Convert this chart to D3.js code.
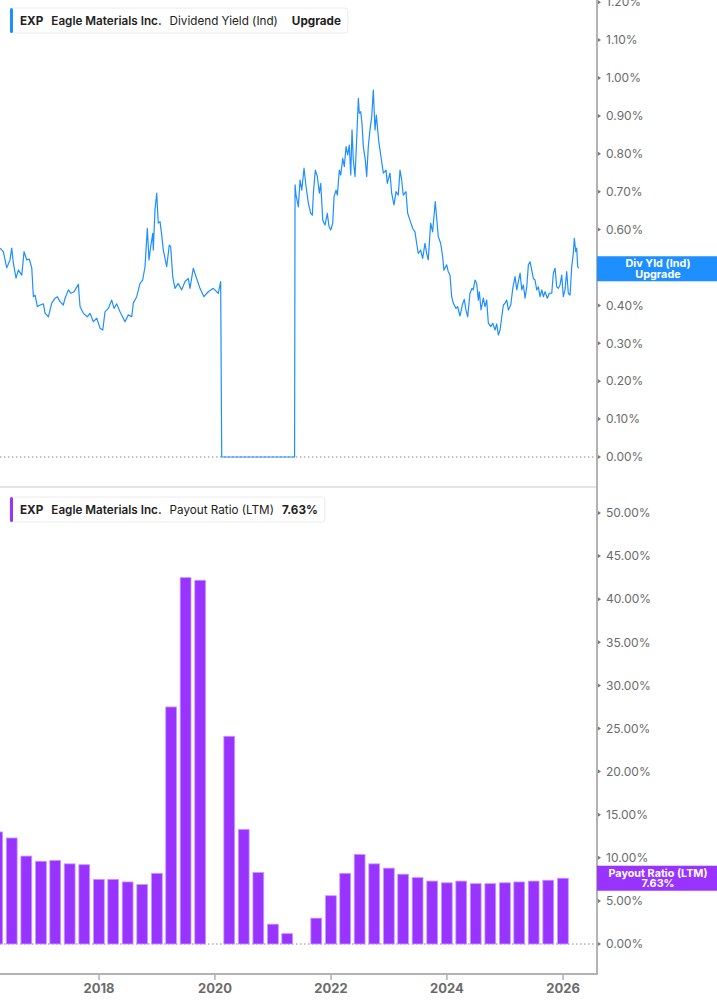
<!DOCTYPE html>
<html>
<head>
<meta charset="utf-8">
<script src="https://cdn.jsdelivr.net/npm/d3@7"></script>
<style>
  body { margin: 0; background: #fff; }
  svg { display: block; font-family: Inter, "Noto Sans", sans-serif; }
</style>
</head>
<body>
<svg id="chart" width="717" height="1005"></svg>
<script>
// dividend yield (ind), % -- decimal year / value
const yieldYears = [
  2016.293, 2016.350, 2016.409, 2016.465, 2016.495, 2016.522, 2016.569, 2016.609, 2016.667, 2016.707,
  2016.753, 2016.798, 2016.840, 2016.867, 2016.896, 2016.936, 2016.983, 2017.040, 2017.069, 2017.126,
  2017.184, 2017.241, 2017.281, 2017.327, 2017.384, 2017.414, 2017.471, 2017.512, 2017.569, 2017.603,
  2017.643, 2017.672, 2017.729, 2017.798, 2017.845, 2017.902, 2017.960, 2018.017, 2018.064, 2018.103,
  2018.160, 2018.219, 2018.259, 2018.305, 2018.362, 2018.448, 2018.505, 2018.564, 2018.591, 2018.650,
  2018.707, 2018.753, 2018.793, 2018.833, 2018.862, 2018.891, 2018.926, 2018.936, 2018.965, 2018.995,
  2019.022, 2019.052, 2019.081, 2019.109, 2019.167, 2019.212, 2019.236, 2019.271, 2019.310, 2019.367,
  2019.426, 2019.483, 2019.540, 2019.569, 2019.626, 2019.684, 2019.741, 2019.810, 2019.884, 2019.971,
  2020.057, 2020.098, 2020.116, 2021.371,
  2021.379, 2021.396, 2021.436, 2021.465, 2021.495, 2021.534, 2021.569, 2021.609, 2021.650, 2021.677,
  2021.695, 2021.729, 2021.764, 2021.798, 2021.822, 2021.857, 2021.896, 2021.936, 2021.965, 2021.995,
  2022.029, 2022.052, 2022.086, 2022.109, 2022.143, 2022.167, 2022.202, 2022.229, 2022.259, 2022.288,
  2022.315, 2022.340, 2022.362, 2022.384, 2022.414, 2022.443, 2022.471, 2022.488, 2022.512, 2022.534,
  2022.557, 2022.591, 2022.615, 2022.643, 2022.672, 2022.702, 2022.729, 2022.759, 2022.781, 2022.805,
  2022.827, 2022.845, 2022.874, 2022.902, 2022.948, 2022.971, 2023.017, 2023.046, 2023.086, 2023.121,
  2023.160, 2023.190, 2023.219, 2023.246, 2023.293, 2023.322, 2023.362, 2023.409, 2023.448, 2023.477,
  2023.505, 2023.546, 2023.581, 2023.621, 2023.650, 2023.677, 2023.719, 2023.753, 2023.798, 2023.850,
  2023.891, 2023.926, 2023.948, 2023.995, 2024.022, 2024.052, 2024.081, 2024.109, 2024.155, 2024.184,
  2024.224, 2024.264, 2024.298, 2024.327, 2024.357, 2024.396, 2024.431, 2024.453, 2024.483, 2024.512,
  2024.540, 2024.557, 2024.586, 2024.626, 2024.655, 2024.684, 2024.712, 2024.753, 2024.788, 2024.827,
  2024.857, 2024.884, 2024.914, 2024.943, 2024.971, 2025.000, 2025.029, 2025.057, 2025.098, 2025.133,
  2025.172, 2025.202, 2025.229, 2025.259, 2025.288, 2025.315, 2025.345, 2025.374, 2025.402, 2025.431,
  2025.460, 2025.488, 2025.517, 2025.546, 2025.574, 2025.603, 2025.633, 2025.660, 2025.690, 2025.729,
  2025.764, 2025.805, 2025.833, 2025.862, 2025.891, 2025.919, 2025.948, 2025.977, 2026.005, 2026.034,
  2026.064, 2026.091, 2026.121, 2026.150, 2026.177, 2026.195, 2026.219, 2026.236, 2026.253, 2026.271
]
const yieldValues = [
  0.551, 0.542, 0.499, 0.520, 0.551, 0.512, 0.472, 0.493, 0.480, 0.542,
  0.520, 0.522, 0.498, 0.423, 0.427, 0.397, 0.401, 0.404, 0.379, 0.370,
  0.406, 0.419, 0.423, 0.410, 0.401, 0.419, 0.441, 0.432, 0.436, 0.445,
  0.456, 0.397, 0.379, 0.370, 0.379, 0.357, 0.366, 0.340, 0.335, 0.383,
  0.392, 0.414, 0.392, 0.404, 0.383, 0.357, 0.375, 0.370, 0.406, 0.423,
  0.458, 0.467, 0.502, 0.603, 0.520, 0.555, 0.590, 0.546, 0.652, 0.696,
  0.617, 0.621, 0.586, 0.546, 0.502, 0.559, 0.555, 0.476, 0.445, 0.458,
  0.441, 0.463, 0.471, 0.445, 0.498, 0.471, 0.445, 0.423, 0.436, 0.445,
  0.432, 0.463, 0, 0,
  0.718, 0.691, 0.660, 0.731, 0.704, 0.762, 0.713, 0.669, 0.643, 0.638,
  0.696, 0.757, 0.740, 0.696, 0.722, 0.625, 0.612, 0.643, 0.608, 0.599,
  0.617, 0.687, 0.704, 0.691, 0.757, 0.744, 0.788, 0.766, 0.819, 0.797,
  0.823, 0.744, 0.863, 0.784, 0.740, 0.841, 0.946, 0.907, 0.911, 0.880,
  0.819, 0.784, 0.740, 0.819, 0.863, 0.898, 0.968, 0.863, 0.902, 0.863,
  0.828, 0.810, 0.779, 0.749, 0.757, 0.722, 0.749, 0.696, 0.665, 0.700,
  0.691, 0.757, 0.731, 0.691, 0.700, 0.643, 0.625, 0.603, 0.594, 0.564,
  0.537, 0.546, 0.524, 0.564, 0.537, 0.520, 0.617, 0.594, 0.674, 0.581,
  0.564, 0.528, 0.493, 0.507, 0.489, 0.480, 0.423, 0.406, 0.392, 0.397,
  0.372, 0.401, 0.416, 0.388, 0.370, 0.432, 0.445, 0.441, 0.467, 0.458,
  0.414, 0.436, 0.388, 0.419, 0.397, 0.414, 0.353, 0.344, 0.353, 0.335,
  0.351, 0.322, 0.335, 0.370, 0.401, 0.406, 0.414, 0.388, 0.401, 0.445,
  0.476, 0.441, 0.463, 0.485, 0.441, 0.454, 0.419, 0.449, 0.507, 0.515,
  0.493, 0.471, 0.467, 0.441, 0.449, 0.423, 0.441, 0.423, 0.436, 0.419,
  0.432, 0.432, 0.485, 0.498, 0.449, 0.445, 0.454, 0.480, 0.423, 0.441,
  0.489, 0.432, 0.427, 0.502, 0.537, 0.577, 0.542, 0.551, 0.502, 0.498
]

// payout ratio (LTM), %, quarterly
const payoutDates = [
  "2016-03-31", "2016-06-30", "2016-09-30", "2016-12-31",
  "2017-03-31", "2017-06-30", "2017-09-30", "2017-12-31",
  "2018-03-31", "2018-06-30", "2018-09-30", "2018-12-31",
  "2019-03-31", "2019-06-30", "2019-09-30", "2019-12-31",
  "2020-03-31", "2020-06-30", "2020-09-30", "2020-12-31",
  "2021-03-31", "2021-06-30", "2021-09-30", "2021-12-31",
  "2022-03-31", "2022-06-30", "2022-09-30", "2022-12-31",
  "2023-03-31", "2023-06-30", "2023-09-30", "2023-12-31",
  "2024-03-31", "2024-06-30", "2024-09-30", "2024-12-31",
  "2025-03-31", "2025-06-30", "2025-09-30", "2025-12-31"
]
const payoutValues = [
  13.0, 12.3, 10.2, 9.6,
  9.7, 9.3, 9.2, 7.5,
  7.5, 7.2, 6.9, 8.2,
  27.5, 42.5, 42.2, null,
  24.1, 13.3, 8.3, 2.3,
  1.2, null, 3.0, 5.6,
  8.2, 10.4, 9.3, 8.8,
  8.1, 7.7, 7.3, 7.1,
  7.3, 7.0, 7.0, 7.1,
  7.2, 7.3, 7.4, 7.63
]

const yearTicks = [2018, 2020, 2022, 2024, 2026]
const yieldTicks = [0, 0.1, 0.2, 0.3, 0.4, 0.5, 0.6, 0.7, 0.8, 0.9, 1.0, 1.1, 1.2]
const payoutTicks = [0, 5, 10, 15, 20, 25, 30, 35, 40, 45, 50]

const blue = "#1e8fff"
const purple = "#9933ff"
const plotRight = 597

function decYear(v) {
  const yr = Math.floor(v)
  const start = new Date(yr, 0, 1), end = new Date(yr + 1, 0, 1)
  return new Date(+start + (v - yr) * (end - start))
}

const svg = d3.select("#chart")

const x = d3.scaleTime()
  .domain([decYear(2016.293), decYear(2026.586)])
  .range([0, plotRight])

const yTop = d3.scaleLinear().domain([0, 1.2]).range([457, 2.2])
const yBot = d3.scaleLinear().domain([0, 50]).range([944, 513])

// panel separator
svg.append("line")
  .attr("x1", 0).attr("x2", plotRight)
  .attr("y1", 487).attr("y2", 487)
  .attr("stroke", "#e4e4e4").attr("stroke-width", 2)

function rightAxis(scale, ticks, fmt) {
  const g = svg.append("g")
  g.selectAll("path.tk")
    .data(ticks)
    .enter()
    .append("path")
      .attr("class", "tk")
      .attr("d", d => `M${plotRight + 1},${scale(d) - 2}L${plotRight + 4},${scale(d)}L${plotRight + 1},${scale(d) + 2}Z`)
      .attr("fill", "#777")
  g.selectAll("text")
    .data(ticks)
    .enter()
    .append("text")
      .attr("x", plotRight + 9)
      .attr("y", d => scale(d))
      .attr("dy", "0.35em")
      .attr("font-size", 12)
      .attr("fill", "#6b6b6b")
      .text(fmt)
}

function zeroLine(y) {
  svg.append("line")
    .attr("x1", 0).attr("x2", plotRight)
    .attr("y1", y).attr("y2", y)
    .attr("stroke", "#888")
    .attr("stroke-width", 1)
    .attr("stroke-dasharray", "1.5,2.5")
}

// --- top: dividend yield
zeroLine(yTop(0))
rightAxis(yTop, yieldTicks, d => d.toFixed(2) + "%")

const yieldData = yieldYears.map((t, i) => ({date: decYear(t), value: yieldValues[i]}))

svg.append("path")
  .datum(yieldData)
  .attr("fill", "none")
  .attr("stroke", blue)
  .attr("stroke-width", 1.2)
  .attr("stroke-linejoin", "round")
  .attr("d", d3.line().x(d => x(d.date)).y(d => yTop(d.value)))

// --- bottom: payout ratio
zeroLine(yBot(0))
rightAxis(yBot, payoutTicks, d => d.toFixed(2) + "%")

const parse = d3.timeParse("%Y-%m-%d")
const payoutData = payoutDates
  .map((d, i) => ({date: parse(d), value: payoutValues[i]}))
  .filter(d => d.value !== null)

const quarterPx = x(parse("2020-03-31")) - x(parse("2019-12-31"))
const barW = quarterPx * 0.75

svg.append("g")
  .selectAll("rect")
  .data(payoutData)
  .enter()
  .append("rect")
    .attr("x", d => x(d.date) - barW / 2)
    .attr("y", d => yBot(d.value))
    .attr("width", barW)
    .attr("height", d => yBot(0) - yBot(d.value))
    .attr("fill", purple)
    .attr("stroke", "#c89bff")
    .attr("stroke-width", 0.8)

// axis frame
svg.append("line")
  .attr("x1", plotRight).attr("x2", plotRight)
  .attr("y1", 0).attr("y2", 975)
  .attr("stroke", "#b3b3b3").attr("stroke-width", 2)
svg.append("line")
  .attr("x1", 0).attr("x2", plotRight + 1)
  .attr("y1", 974).attr("y2", 974)
  .attr("stroke", "#b3b3b3").attr("stroke-width", 2)

const xg = svg.append("g")
xg.selectAll("line")
  .data(yearTicks)
  .enter()
  .append("line")
    .attr("x1", d => x(new Date(d, 0, 1)))
    .attr("x2", d => x(new Date(d, 0, 1)))
    .attr("y1", 975).attr("y2", 980)
    .attr("stroke", "#888")
xg.selectAll("text")
  .data(yearTicks)
  .enter()
  .append("text")
    .attr("x", d => x(new Date(d, 0, 1)))
    .attr("y", 993)
    .attr("text-anchor", "middle")
    .attr("font-size", 13)
    .attr("font-weight", 700)
    .attr("fill", "#6b6b6b")
    .text(d => d)

// --- legends
function legend(y, color, parts) {
  const g = svg.append("g")
  const box = g.append("rect")
    .attr("x", 10).attr("y", y)
    .attr("height", 25)
    .attr("rx", 3)
    .attr("fill", "#fff")
    .attr("stroke", "#ececec")
  g.append("rect")
    .attr("x", 10).attr("y", y)
    .attr("width", 3).attr("height", 25)
    .attr("rx", 1.5)
    .attr("fill", color)
  let cx = 20
  parts.forEach(p => {
    const t = g.append("text")
      .attr("x", cx)
      .attr("y", y + 17)
      .attr("font-size", 11.7)
      .attr("font-weight", p.weight)
      .attr("fill", "#222")
      .text(p.text)
    cx += t.node().getComputedTextLength() + p.gap
  })
  box.attr("width", cx + 7 - 10)
}

legend(8, blue, [
  {text: "EXP", weight: 700, gap: 8},
  {text: "Eagle Materials Inc.", weight: 600, gap: 8},
  {text: "Dividend Yield (Ind)", weight: 400, gap: 14},
  {text: "Upgrade", weight: 700, gap: 0}
])

legend(497, purple, [
  {text: "EXP", weight: 700, gap: 8},
  {text: "Eagle Materials Inc.", weight: 600, gap: 8},
  {text: "Payout Ratio (LTM)", weight: 400, gap: 8},
  {text: "7.63%", weight: 700, gap: 0}
])

// --- last value labels on the right axis
function valueTag(yc, color, lines) {
  const g = svg.append("g")
  g.append("rect")
    .attr("x", plotRight)
    .attr("y", yc - 12.5)
    .attr("width", 717 - plotRight)
    .attr("height", 25)
    .attr("fill", color)
  g.selectAll("text")
    .data(lines)
    .enter()
    .append("text")
      .attr("x", 658)
      .attr("y", (d, i) => yc - 5.2 + i * 10.4)
      .attr("dy", "0.35em")
      .attr("text-anchor", "middle")
      .attr("font-size", 10.8)
      .attr("font-weight", 700)
      .attr("fill", "#fff")
      .text(d => d)
}

valueTag(yTop(yieldValues[yieldValues.length - 1]) + 0.5, blue, ["Div Yld (Ind)", "Upgrade"])
valueTag(yBot(payoutValues[payoutValues.length - 1]), purple, ["Payout Ratio (LTM)", "7.63%"])
</script>
</body>
</html>
